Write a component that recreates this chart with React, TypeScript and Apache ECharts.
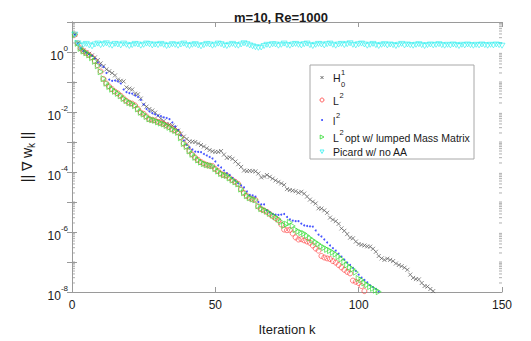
import React, { useEffect, useRef } from "react";
import * as echarts from "echarts";

const titleText = "m=10, Re=1000";
const xLabel = "Iteration k";
const seriesNames = ["H01", "L2", "l2", "L2 opt w/ lumped Mass Matrix", "Picard w/ no AA"];

// log10 of ||∇ w_k||, k = 1, 2, ...
const h01Log = [
  0.58, 0.29, 0.13, 0.05, -0.01, -0.06, -0.11, -0.18, -0.27, -0.38,
  -0.47, -0.58, -0.64, -0.70, -0.78, -0.92, -0.96, -0.98, -1.18, -1.22,
  -1.25, -1.39, -1.41, -1.55, -1.75, -1.82, -1.90, -1.95, -2.02, -2.12,
  -2.22, -2.30, -2.40, -2.42, -2.45, -2.52, -2.62, -2.72, -2.82, -2.90,
  -2.98, -2.99, -3.00, -3.05, -3.10, -3.15, -3.21, -3.27, -3.31, -3.33,
  -3.33, -3.30, -3.42, -3.53, -3.51, -3.56, -3.65, -3.74, -3.83, -3.95,
  -3.97, -3.96, -3.97, -3.98, -4.05, -4.18, -4.15, -4.10, -4.16, -4.22,
  -4.28, -4.33, -4.38, -4.43, -4.57, -4.60, -4.62, -4.64, -4.69, -4.66,
  -4.72, -4.82, -4.92, -4.99, -5.05, -5.21, -5.22, -5.28, -5.36, -5.52,
  -5.59, -5.64, -5.73, -5.88, -5.96, -6.07, -6.19, -6.21, -6.32, -6.40,
  -6.43, -6.45, -6.48, -6.49, -6.56, -6.66, -6.80, -6.88, -6.93, -6.89,
  -6.93, -6.97, -7.05, -7.10, -7.14, -7.19, -7.26, -7.42, -7.53, -7.57,
  -7.58, -7.70, -7.80, -7.82, -7.90, -7.97,
];

const l2CapLog = [
  0.58, 0.29, 0.12, 0.03, -0.03, -0.10, -0.18, -0.30, -0.45, -0.65,
  -0.90, -1.05, -1.15, -1.24, -1.32, -1.38, -1.46, -1.55, -1.63, -1.69,
  -1.72, -1.78, -1.90, -2.02, -2.06, -2.15, -2.24, -2.26, -2.28, -2.33,
  -2.36, -2.40, -2.45, -2.50, -2.58, -2.62, -2.68, -2.85, -3.05, -3.15,
  -3.30, -3.42, -3.52, -3.60, -3.67, -3.72, -3.76, -3.79, -3.80, -3.90,
  -3.97, -4.06, -4.10, -4.12, -4.20, -4.27, -4.33, -4.40, -4.58, -4.70,
  -4.80, -4.87, -4.91, -4.93, -5.15, -5.24, -5.28, -5.33, -5.40, -5.47,
  -5.54, -5.61, -5.75, -5.92, -5.94, -5.93, -6.05, -6.18, -6.25, -6.24,
  -6.28, -6.32, -6.36, -6.45, -6.55, -6.62, -6.80, -6.85, -6.88, -6.90,
  -6.97, -7.02, -7.10, -7.18, -7.26, -7.33, -7.38, -7.62, -7.66, -7.70,
  -7.80, -7.97,
];

const l2SmallLog = [
  0.58, 0.29, 0.12, 0.04, -0.02, -0.08, -0.13, -0.22, -0.35, -0.45,
  -0.50, -0.70, -0.92, -0.96, -0.95, -0.98, -1.05, -1.25, -1.34, -1.37,
  -1.39, -1.45, -1.50, -1.60, -1.75, -1.90, -1.98, -2.04, -2.08, -2.12,
  -2.14, -2.18, -2.20, -2.24, -2.35, -2.48, -2.60, -2.78, -2.95, -3.10,
  -3.18, -3.25, -3.32, -3.33, -3.34, -3.40, -3.45, -3.50, -3.55, -3.65,
  -3.78, -3.85, -3.95, -4.04, -4.10, -4.20, -4.29, -4.38, -4.45, -4.51,
  -4.65, -4.76, -4.78, -4.82, -5.00, -5.08, -5.08, -5.28, -5.35, -5.40,
  -5.42, -5.43, -5.42, -5.40, -5.50, -5.58, -5.62, -5.64, -5.64, -5.72,
  -5.78, -5.80, -5.81, -5.82, -5.95, -6.09, -6.15, -6.25, -6.35, -6.45,
  -6.54, -6.62, -6.72, -6.82, -6.92, -7.02, -7.10, -7.20, -7.30, -7.42,
  -7.52, -7.60, -7.68, -7.78, -7.84, -7.90, -7.98,
];

const l2OptLog = [
  0.58, 0.29, 0.12, 0.03, -0.03, -0.10, -0.19, -0.31, -0.46, -0.66,
  -0.89, -1.04, -1.15, -1.24, -1.31, -1.38, -1.46, -1.55, -1.62, -1.69,
  -1.72, -1.79, -1.90, -2.01, -2.07, -2.15, -2.23, -2.26, -2.28, -2.33,
  -2.37, -2.40, -2.45, -2.51, -2.57, -2.62, -2.68, -2.86, -3.05, -3.15,
  -3.30, -3.41, -3.51, -3.60, -3.67, -3.72, -3.76, -3.78, -3.80, -3.89,
  -3.97, -4.05, -4.10, -4.12, -4.20, -4.27, -4.33, -4.40, -4.57, -4.69,
  -4.79, -4.86, -4.90, -4.93, -5.13, -5.22, -5.26, -5.31, -5.38, -5.44,
  -5.50, -5.57, -5.66, -5.78, -5.74, -5.68, -5.80, -5.92, -5.98, -6.02,
  -6.05, -6.12, -6.20, -6.27, -6.34, -6.40, -6.48, -6.52, -6.58, -6.62,
  -6.68, -6.74, -6.82, -6.90, -7.00, -7.10, -7.18, -7.24, -7.34, -7.55,
  -7.60, -7.70, -7.76, -7.82, -7.88, -7.94, -7.99,
];

const picardLog = [
  0.58, 0.29,
  0.20, 0.24, 0.27, 0.22, 0.19, 0.25, 0.28, 0.23, 0.26, 0.29,
  0.24, 0.21, 0.27, 0.25, 0.22, 0.28, 0.24, 0.20, 0.23, 0.27,
  0.25, 0.21, 0.24, 0.28, 0.26, 0.22, 0.25, 0.23, 0.27, 0.24,
  0.20, 0.22, 0.26, 0.24, 0.21, 0.25, 0.28, 0.23, 0.20, 0.24,
  0.26, 0.22, 0.19, 0.23, 0.27, 0.25, 0.21, 0.24, 0.28, 0.26,
  0.22, 0.20, 0.24, 0.27, 0.23, 0.21, 0.25, 0.29, 0.26, 0.22,
  0.19, 0.16, 0.14, 0.15, 0.20, 0.24, 0.22, 0.26, 0.25, 0.21,
  0.24, 0.28, 0.23, 0.21, 0.25, 0.27, 0.24, 0.22, 0.26, 0.28,
  0.23, 0.20, 0.24, 0.27, 0.25, 0.22, 0.26, 0.28, 0.24, 0.21,
  0.25, 0.27, 0.23, 0.26, 0.29, 0.24, 0.22, 0.26, 0.28, 0.25,
  0.21, 0.24, 0.27, 0.23, 0.20, 0.24, 0.26, 0.22, 0.25, 0.23,
  0.20, 0.24, 0.27, 0.22, 0.25, 0.23, 0.21, 0.24, 0.26, 0.23,
  0.20, 0.23, 0.25, 0.22, 0.24, 0.26, 0.23, 0.21, 0.24, 0.22,
  0.25, 0.23, 0.20, 0.24, 0.22, 0.25, 0.23, 0.21, 0.24, 0.22,
  0.25, 0.23, 0.21, 0.24, 0.22, 0.25, 0.23, 0.21,
];

// axis decoration: minor tick multipliers and decades
const minorMultipliers = [2, 3, 4, 5, 6, 7, 8, 9];
const decades = [-8, -7, -6, -5, -4, -3, -2, -1, 0];

const FONT = "'Liberation Sans', Arial, Helvetica, sans-serif";
const AXIS_COLOR = "#9a9a9a";
const TEXT_COLOR = "#1a1a1a";

const C_H01 = "#4a4a4a";
const C_L2 = "#ff3b3b";
const C_l2 = "#1a2cff";
const C_OPT = "#2fdc2f";
const C_PIC = "#2ff0f0";

const SYM_X = "path://M0,0L10,10M0,10L10,0";
const SYM_RTRI = "path://M0,0L9,5L0,10Z";
const SYM_DTRI = "path://M0,0L10,0L5,9Z";

function toPoints(arr: number[]) {
  return arr.map((v, i) => [i + 1, Math.pow(10, v)]);
}

export default function App() {
  const ref = useRef<HTMLDivElement>(null);

  useEffect(() => {
    document.body.style.margin = "0";
    if (!ref.current) return;
    const chart = echarts.init(ref.current, undefined, { renderer: "svg" });

    const minorData: number[][] = [];
    decades.forEach((e) => {
      if (e % 2 !== 0) minorData.push([0, Math.pow(10, e)]);
      minorMultipliers.forEach((m) => minorData.push([0, m * Math.pow(10, e)]));
    });

    const yLabelFmt = (value: number) => {
      const e = Math.round(Math.log10(value));
      if (e > 0 || e % 2 !== 0) return "";
      return `{b|10}{s|${e}}`;
    };

    const lx = 322;
    const tx = 333;
    const LF = `10.5px ${FONT}`;
    const SF = `7.5px ${FONT}`;
    const legendGraphic = {
      type: "group",
      silent: true,
      children: [
        { type: "rect", shape: { x: 310, y: 65, width: 164, height: 94 }, style: { fill: "#fff", stroke: "#a8a8a8", lineWidth: 1 } },
        // H01
        { type: "line", shape: { x1: lx - 1.5, y1: 76, x2: lx + 1.5, y2: 79 }, style: { stroke: C_H01, lineWidth: 0.8 } },
        { type: "line", shape: { x1: lx - 1.5, y1: 79, x2: lx + 1.5, y2: 76 }, style: { stroke: C_H01, lineWidth: 0.8 } },
        { type: "text", x: tx, y: 78, style: { text: "H", font: LF, fill: TEXT_COLOR, textVerticalAlign: "middle" } },
        { type: "text", x: tx + 8, y: 72, style: { text: "1", font: SF, fill: TEXT_COLOR, textVerticalAlign: "middle" } },
        { type: "text", x: tx + 8, y: 84, style: { text: "0", font: SF, fill: TEXT_COLOR, textVerticalAlign: "middle" } },
        // L2
        { type: "circle", shape: { cx: lx, cy: 100, r: 2 }, style: { fill: "none", stroke: C_L2, lineWidth: 0.8 } },
        { type: "text", x: tx, y: 101, style: { text: "L", font: LF, fill: TEXT_COLOR, textVerticalAlign: "middle" } },
        { type: "text", x: tx + 6.5, y: 95, style: { text: "2", font: SF, fill: TEXT_COLOR, textVerticalAlign: "middle" } },
        // l2
        { type: "circle", shape: { cx: lx, cy: 120, r: 0.9 }, style: { fill: C_l2 } },
        { type: "text", x: tx, y: 121, style: { text: "l", font: LF, fill: TEXT_COLOR, textVerticalAlign: "middle" } },
        { type: "text", x: tx + 3, y: 115, style: { text: "2", font: SF, fill: TEXT_COLOR, textVerticalAlign: "middle" } },
        // L2 opt
        { type: "polygon", shape: { points: [[lx - 1.8, 135], [lx + 2, 137], [lx - 1.8, 139]] }, style: { fill: "none", stroke: C_OPT, lineWidth: 0.8 } },
        { type: "text", x: tx, y: 138, style: { text: "L", font: LF, fill: TEXT_COLOR, textVerticalAlign: "middle" } },
        { type: "text", x: tx + 6.5, y: 132, style: { text: "2", font: SF, fill: TEXT_COLOR, textVerticalAlign: "middle" } },
        { type: "text", x: tx + 12, y: 138, style: { text: "opt w/ lumped Mass Matrix", font: LF, fill: TEXT_COLOR, textVerticalAlign: "middle" } },
        // Picard
        { type: "polygon", shape: { points: [[lx - 2, 150], [lx + 2, 150], [lx, 153.5]] }, style: { fill: "none", stroke: C_PIC, lineWidth: 0.8 } },
        { type: "text", x: tx, y: 152, style: { text: "Picard w/ no AA", font: LF, fill: TEXT_COLOR, textVerticalAlign: "middle" } },
      ],
    };

    const baseX = {
      type: "value",
      min: 0,
      max: 150,
      interval: 50,
      axisLine: { show: true, lineStyle: { color: AXIS_COLOR, width: 1 } },
      axisTick: { show: true, inside: true, length: 5, lineStyle: { color: AXIS_COLOR } },
      splitLine: { show: false },
    };
    const baseY = {
      type: "log",
      logBase: 10,
      min: 1e-8,
      max: 10,
      axisLine: { show: true, lineStyle: { color: AXIS_COLOR, width: 1 } },
      axisTick: { show: true, inside: true, length: 5, lineStyle: { color: AXIS_COLOR } },
      splitLine: { show: false },
    };

    chart.setOption({
      animation: false,
      textStyle: { fontFamily: FONT },
      title: {
        text: titleText,
        left: 229,
        top: 6,
        textStyle: { fontSize: 13, fontWeight: "bold", color: TEXT_COLOR, fontFamily: FONT },
      },
      grid: { left: 72, right: 29, top: 22, bottom: 38, containLabel: false },
      xAxis: [
        {
          ...baseX,
          position: "bottom",
          name: xLabel,
          nameLocation: "middle",
          nameGap: 31,
          nameTextStyle: { fontSize: 13, color: TEXT_COLOR, fontFamily: FONT },
          axisLabel: { show: true, fontSize: 12, color: TEXT_COLOR, margin: 7, fontFamily: FONT },
        },
        { ...baseX, position: "top", axisLabel: { show: false } },
      ],
      yAxis: [
        {
          ...baseY,
          position: "left",
          name: "{n||| ∇ w}{k|k}{n| ||}",
          nameLocation: "middle",
          nameGap: 23,
          nameRotate: 90,
          nameTextStyle: {
            rich: {
              n: { fontSize: 14, color: TEXT_COLOR, fontFamily: FONT, lineHeight: 20, verticalAlign: "middle" },
              k: { fontSize: 10, color: TEXT_COLOR, fontFamily: FONT, lineHeight: 20, verticalAlign: "bottom" },
            },
          },
          axisLabel: {
            show: true,
            margin: 4,
            formatter: yLabelFmt,
            rich: {
              b: { fontSize: 12, color: TEXT_COLOR, fontFamily: FONT, lineHeight: 20, verticalAlign: "bottom" },
              s: { fontSize: 8, color: TEXT_COLOR, fontFamily: FONT, lineHeight: 20, verticalAlign: "top", padding: [2, 0, 0, 0] },
            },
          },
        },
        { ...baseY, position: "right", axisLabel: { show: false } },
      ],
      series: [
        {
          type: "custom",
          name: "minorTicks",
          silent: true,
          data: minorData,
          encode: { x: 0, y: 1 },
          renderItem: (params: any, api: any) => {
            const cs = params.coordSys;
            const y = api.coord([0, api.value(1)])[1];
            return {
              type: "group",
              children: [
                { type: "line", shape: { x1: cs.x, y1: y, x2: cs.x + 3, y2: y }, style: { stroke: AXIS_COLOR, lineWidth: 0.8 } },
                { type: "line", shape: { x1: cs.x + cs.width - 3, y1: y, x2: cs.x + cs.width, y2: y }, style: { stroke: AXIS_COLOR, lineWidth: 0.8 } },
              ],
            };
          },
          z: 1,
        },
        {
          type: "scatter",
          name: seriesNames[0],
          data: toPoints(h01Log),
          symbol: SYM_X,
          symbolSize: 4,
          silent: true,
          itemStyle: { color: "rgba(0,0,0,0)", borderColor: C_H01, borderWidth: 0.8 },
        },
        {
          type: "scatter",
          name: seriesNames[1],
          data: toPoints(l2CapLog),
          symbol: "circle",
          symbolSize: 5,
          silent: true,
          itemStyle: { color: "rgba(0,0,0,0)", borderColor: C_L2, borderWidth: 0.8 },
        },
        {
          type: "scatter",
          name: seriesNames[2],
          data: toPoints(l2SmallLog),
          symbol: "circle",
          symbolSize: 2,
          silent: true,
          itemStyle: { color: C_l2 },
        },
        {
          type: "scatter",
          name: seriesNames[3],
          data: toPoints(l2OptLog),
          symbol: SYM_RTRI,
          symbolSize: [5, 6],
          silent: true,
          itemStyle: { color: "rgba(0,0,0,0)", borderColor: C_OPT, borderWidth: 0.8 },
        },
        {
          type: "scatter",
          name: seriesNames[4],
          data: toPoints(picardLog),
          symbol: SYM_DTRI,
          symbolSize: [6, 5],
          silent: true,
          itemStyle: { color: "rgba(0,0,0,0)", borderColor: C_PIC, borderWidth: 0.8 },
        },
      ],
      graphic: [legendGraphic],
    });

    return () => chart.dispose();
  }, []);

  return <div ref={ref} style={{ width: 531, height: 341 }} />;
}
